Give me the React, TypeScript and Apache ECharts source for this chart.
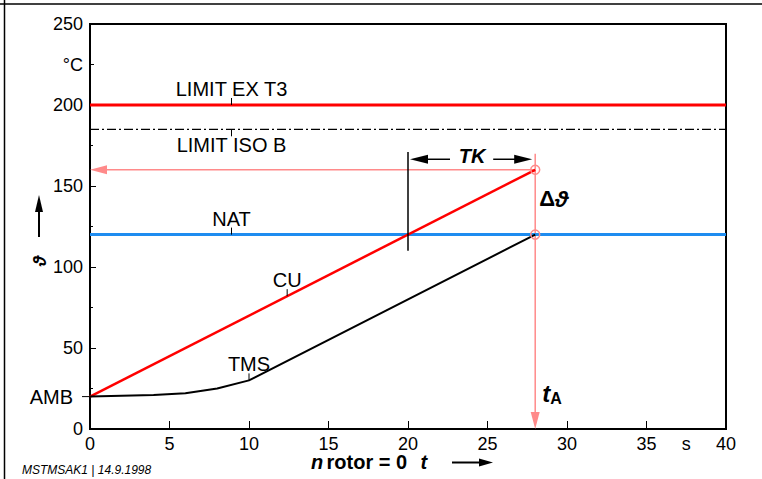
import React, { useEffect, useRef } from "react";
import * as echarts from "echarts";

// ---- data ----
const xTicks = [0, 5, 10, 15, 20, 25, 30, 35, 40];
const yTicks = [0, 50, 100, 150, 200, 250];
const cuTime = [0, 28];
const cuTemp = [20, 160];
const tmsTime = [0, 4, 6, 8, 10, 28];
const tmsTemp = [20, 21, 22, 25, 30, 120];
const limitExT3 = 200;
const limitIsoB = 185;
const natTemp = 120;
const ambTemp = 20;
const tA = 28;
const tkStart = 20;
const peakTemp = 160;
const tkArrowTemp = 166.5;
const tkLineTop = 171;
const tkLineBottom = 110;
const unitTempValue = 225;
const unitTimeValue = 37.5;
const curveLabels = [
  { text: "LIMIT EX T3", x: 8.9, y: limitExT3, up: true },
  { text: "LIMIT ISO B", x: 8.9, y: limitIsoB, up: false },
  { text: "NAT", x: 8.9, y: natTemp, up: true },
  { text: "CU", x: 12.4, y: 20 + 5 * 12.4, up: true },
  { text: "TMS", x: 10, y: 30, up: true },
];

const FONT = '"Liberation Sans", Arial, sans-serif';
const PINK = "#ff8a8a";

export default function App() {
  const ref = useRef<HTMLDivElement>(null);
  useEffect(() => {
    const chart = echarts.init(ref.current!, null, { renderer: "svg" });
    const axisText = { color: "#000", fontSize: 18, fontFamily: FONT };
    chart.setOption({
      animation: false,
      backgroundColor: "#fff",
      grid: {
        left: 90,
        right: 36,
        top: 24,
        bottom: 50,
        show: true,
        borderColor: "#000",
        borderWidth: 2,
        backgroundColor: "transparent",
      },
      xAxis: {
        type: "value",
        min: xTicks[0],
        max: xTicks[xTicks.length - 1],
        interval: 5,
        axisLine: { lineStyle: { color: "#000", width: 2 } },
        axisTick: { inside: true, length: 8, lineStyle: { color: "#000", width: 1 } },
        splitLine: { show: false },
        axisLabel: { ...axisText, margin: 6 },
      },
      yAxis: {
        type: "value",
        min: yTicks[0],
        max: yTicks[yTicks.length - 1],
        interval: 50,
        axisLine: { show: true, lineStyle: { color: "#000", width: 2 } },
        axisTick: { show: true, inside: true, length: 6, lineStyle: { color: "#000", width: 1 } },
        minorTick: { show: true, splitNumber: 2, length: 3, lineStyle: { color: "#000", width: 1 } },
        splitLine: { show: false },
        axisLabel: { ...axisText, margin: 7 },
      },
      series: [
        {
          type: "line",
          data: [[0, limitExT3], [40, limitExT3]],
          symbol: "none",
          lineStyle: { color: "#ff0000", width: 3 },
          silent: true,
        },
        {
          type: "line",
          data: [[0, limitIsoB], [40, limitIsoB]],
          symbol: "none",
          lineStyle: { color: "#000", width: 1.3, type: [9, 3, 2, 3] },
          silent: true,
        },
        {
          type: "line",
          data: [[0, natTemp], [40, natTemp]],
          symbol: "none",
          lineStyle: { color: "#1e8cf0", width: 3 },
          silent: true,
        },
        {
          type: "line",
          data: cuTime.map((t, i) => [t, cuTemp[i]]),
          symbol: "none",
          lineStyle: { color: "#ff0000", width: 2.5 },
          silent: true,
        },
        {
          type: "line",
          data: tmsTime.map((t, i) => [t, tmsTemp[i]]),
          symbol: "none",
          lineStyle: { color: "#000", width: 2 },
          silent: true,
        },
      ],
    });

    const p = (x: number, y: number) =>
      chart.convertToPixel({ gridIndex: 0 }, [x, y]) as number[];
    const els: any[] = [];
    const text = (
      t: string,
      x: number,
      y: number,
      font: string,
      align: string,
      valign: string
    ) => ({
      type: "text",
      z: 10,
      style: {
        text: t,
        x,
        y,
        font,
        fill: "#000",
        textAlign: align,
        textVerticalAlign: valign,
        align,
        verticalAlign: valign,
      },
    });
    const line = (x1: number, y1: number, x2: number, y2: number, stroke: string, w: number, z = 10) => ({
      type: "line",
      z,
      shape: { x1, y1, x2, y2 },
      style: { stroke, lineWidth: w },
    });
    const tri = (pts: number[][], fill: string, z = 10) => ({
      type: "polygon",
      z,
      shape: { points: pts },
      style: { fill },
    });

    // outer frame (top & left)
    els.push(line(0, 4, 762, 4, "#000", 1.5));
    els.push(line(4.5, 0, 4.5, 479, "#000", 1.5));

    // unit labels
    const c = p(0, unitTempValue);
    els.push(text("\u00B0C", c[0] - 7, c[1], `18px ${FONT}`, "right", "middle"));
    els.push(line(c[0], c[1], c[0] + 4, c[1], "#000", 1));
    const s = p(unitTimeValue, 0);
    els.push(text("s", s[0], s[1] + 6, `18px ${FONT}`, "center", "top"));

    // AMB
    const a = p(0, ambTemp);
    els.push(text("AMB", a[0] - 17, a[1], `20px ${FONT}`, "right", "middle"));
    els.push(line(a[0] - 8, a[1], a[0] - 1, a[1], "#000", 1));

    // curve labels with tick marks
    curveLabels.forEach((l) => {
      const q = p(l.x, l.y);
      const end = l.up ? q[1] - 7 : q[1] + 7;
      els.push(line(q[0], q[1], q[0], end, "#000", 1));
      els.push(
        text(l.text, q[0], l.up ? end + 1 : end - 1, `20px ${FONT}`, "center", l.up ? "bottom" : "top")
      );
    });

    // pink guides
    const pk = p(tA, peakTemp);
    const p0 = p(0, peakTemp);
    const bot = p(tA, 0);
    els.push(line(pk[0], pk[1], p0[0] + 14, p0[1], PINK, 1.5, 1));
    els.push(tri([[p0[0], p0[1]], [p0[0] + 17, p0[1] - 4.5], [p0[0] + 17, p0[1] + 4.5]], PINK, 1));
    els.push(line(pk[0], pk[1] - 16, bot[0], bot[1] - 14, PINK, 1.5, 1));
    els.push(tri([[bot[0], bot[1]], [bot[0] - 4.5, bot[1] - 17], [bot[0] + 4.5, bot[1] - 17]], PINK, 1));
    const nt = p(tA, natTemp);
    [pk, nt].forEach((q) =>
      els.push({
        type: "circle",
        z: 10,
        shape: { cx: q[0], cy: q[1], r: 4.5 },
        style: { stroke: PINK, fill: "none", lineWidth: 1.5 },
      })
    );

    // TK dimension
    const tkT = p(tkStart, tkLineTop);
    const tkB = p(tkStart, tkLineBottom);
    els.push(line(tkT[0], tkT[1], tkB[0], tkB[1], "#000", 1.5));
    const la = p(tkStart, tkArrowTemp);
    const ra = p(tA, tkArrowTemp);
    const lx = la[0] + 2;
    const rx = ra[0] - 3;
    els.push(tri([[lx, la[1]], [lx + 18, la[1] - 4.5], [lx + 18, la[1] + 4.5]], "#000"));
    els.push(line(lx + 16, la[1], lx + 40, la[1], "#000", 1.5));
    els.push(tri([[rx, ra[1]], [rx - 18, ra[1] - 4.5], [rx - 18, ra[1] + 4.5]], "#000"));
    els.push(line(rx - 16, ra[1], rx - 39, ra[1], "#000", 1.5));
    els.push(text("TK", (lx + rx) / 2 + 1, la[1] - 3, `italic bold 20px ${FONT}`, "center", "middle"));

    // delta theta
    const dl = p(tA, (peakTemp + natTemp) / 2 + 2);
    els.push({
      type: "text",
      z: 10,
      style: {
        text: "{a|\u0394}{b|\u03D1}",
        x: dl[0] + 4,
        y: dl[1],
        textAlign: "left",
        textVerticalAlign: "middle",
        align: "left",
        verticalAlign: "middle",
        rich: {
          a: { fontFamily: FONT, fontSize: 22, fontWeight: "bold", fill: "#000", color: "#000" },
          b: { fontFamily: FONT, fontSize: 23, fontWeight: "bold", fontStyle: "italic", fill: "#000", color: "#000" },
        },
      },
    });

    // tA
    const ta = p(tA, 22);
    els.push({
      type: "text",
      z: 10,
      style: {
        text: "{t|t}{s|A}",
        x: ta[0] + 7,
        y: ta[1],
        textAlign: "left",
        textVerticalAlign: "middle",
        align: "left",
        verticalAlign: "middle",
        rich: {
          t: { fontFamily: FONT, fontSize: 24, fontWeight: "bold", fontStyle: "italic", fill: "#000", color: "#000" },
          s: { fontFamily: FONT, fontSize: 16, fontWeight: "bold", fill: "#000", color: "#000", padding: [10, 0, 0, 0] },
        },
      },
    });

    // x axis title
    els.push({
      type: "text",
      z: 10,
      style: {
        text: "{i|n} {b|rotor = 0}    {i|t}",
        x: 311,
        y: 462,
        textAlign: "left",
        textVerticalAlign: "middle",
        align: "left",
        verticalAlign: "middle",
        rich: {
          i: { fontFamily: FONT, fontSize: 20, lineHeight: 18, fontWeight: "bold", fontStyle: "italic", fill: "#000", color: "#000" },
          b: { fontFamily: FONT, fontSize: 20, lineHeight: 18, fontWeight: "bold", fill: "#000", color: "#000" },
        },
      },
    });
    els.push(line(452, 462.5, 482, 462.5, "#000", 2));
    els.push(tri([[493, 462.5], [479, 458.5], [479, 466.5]], "#000"));

    // y axis title
    els.push(line(39, 237, 39, 208, "#000", 2));
    els.push(tri([[39, 195], [35, 212], [43, 212]], "#000"));
    els.push({
      type: "text",
      z: 10,
      x: 40,
      y: 261,
      rotation: Math.PI / 2,
      style: {
        text: "\u03D1",
        x: 0,
        y: 0,
        font: `italic bold 18px ${FONT}`,
        fill: "#000",
        textAlign: "center",
        textVerticalAlign: "middle",
        align: "center",
        verticalAlign: "middle",
      },
    });

    // footer
    els.push(text("MSTMSAK1 | 14.9.1998", 22, 470, `italic 12px ${FONT}`, "left", "middle"));

    chart.setOption({ graphic: { elements: els } });
    return () => chart.dispose();
  }, []);
  return (
    <div
      ref={ref}
      style={{ position: "absolute", left: 0, top: 0, width: 762, height: 479, background: "#fff" }}
    />
  );
}
